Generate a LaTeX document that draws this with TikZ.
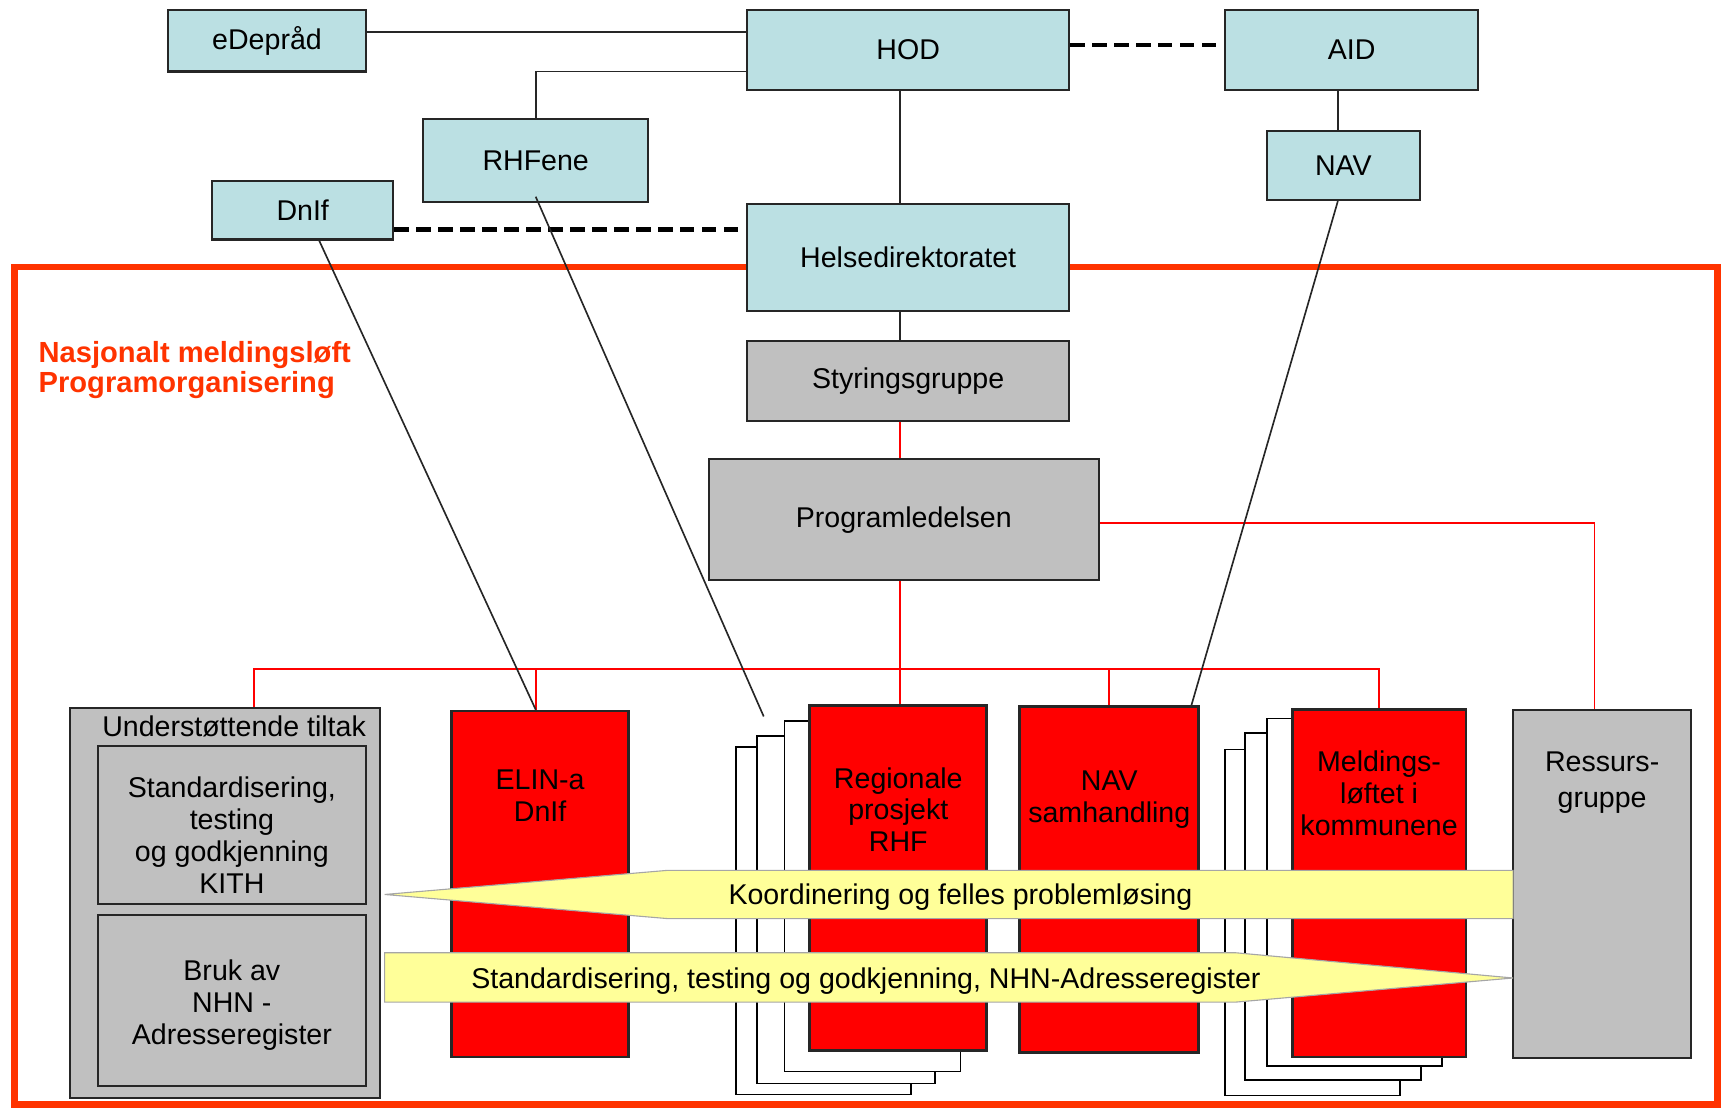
\documentclass[tikz,border=0pt]{standalone}
\usepackage{fontspec}
\setmainfont{Liberation Sans}
\usepackage{xcolor}
\usepackage{tikz}

\definecolor{boxblue}{HTML}{BBE0E3}
\definecolor{boxgray}{HTML}{C0C0C0}
\definecolor{framered}{HTML}{FF3300}
\definecolor{bandyellow}{HTML}{FFFF99}

\tikzset{
  box/.style={draw=black!85, line width=2pt, inner sep=0pt, align=center, font=\fontsize{26}{29}\selectfont},
  blubox/.style={box, fill=boxblue},
  grabox/.style={box, fill=boxgray},
  redbox/.style={box, fill=red, line width=2.5pt},
  sheet/.style={draw=black, fill=white, line width=1.5pt},
  txt/.style={inner sep=0pt, align=center, font=\fontsize{26}{29}\selectfont},
  conn/.style={draw=black!85, line width=1.5pt},
  dashconn/.style={draw=black, line width=4pt, dash pattern=on 13pt off 7pt},
  redconn/.style={draw=red, line width=1.5pt},
  band/.style={fill=bandyellow, draw=black!35, line width=1pt}
}

\begin{document}
\begin{tikzpicture}[x=1pt,y=-1pt]
    \useasboundingbox (0,0) rectangle (1568,1009);
    % the programme frame
    \draw[framered, line width=6pt] (13,243) rectangle (1563,1005);
    \node[txt, anchor=west, align=left, text=framered, font=\fontsize{26.5}{27}\selectfont\bfseries] (ttl) at (35,337) {Nasjonalt meldingsløft\\Programorganisering};

    % ministries and directorate
    \node[blubox, minimum width=180, minimum height=56] (edep) at (243,37) {eDepråd};
    \node[blubox, minimum width=293, minimum height=73] (hod) at (826.5,45.5) {HOD};
    \node[blubox, minimum width=230, minimum height=73] (aid) at (1230,45.5) {AID};
    \node[blubox, minimum width=205, minimum height=76] (rhf) at (487.5,146) {RHFene};
    \node[blubox, minimum width=139, minimum height=63] (nav) at (1222.5,150.5) {NAV};
    \node[blubox, minimum width=165, minimum height=53] (dnif) at (275.5,191.5) {DnIf};
    \node[blubox, minimum width=293, minimum height=97] (helse) at (826.5,234.5) {Helsedirektoratet};
    \node[grabox, minimum width=293, minimum height=73] (styr) at (826.5,346.5) {Styringsgruppe};
    \node[grabox, minimum width=355, minimum height=110] (prog) at (822.5,473) {Programledelsen};

    % supporting measures
    \node[grabox, minimum width=282, minimum height=355] (und) at (205,821.5) {};
    \node[txt] (undtxt) at ([xshift=8pt,yshift=-18pt]und.north) {Understøttende tiltak};
    \node[grabox, minimum width=244, minimum height=144] (kith) at (211,751) {};
    \node[txt] (kithtxt) at ([yshift=-9pt]kith.center) {Standardisering,\\testing\\og godkjenning\\KITH};
    \node[grabox, minimum width=244, minimum height=155] (bruk) at (211,910.5) {};
    \node[txt] (bruktxt) at ([yshift=-4pt]bruk.center) {Bruk av\\NHN -\\Adresseregister};

    % stacked sheets behind the projects
    \foreach \xa/\ya/\xb/\yb in {670/680/829/996, 689/670/851/986, 714/656/874/975,
                                 1115/682/1274/997, 1133/667/1293/983, 1153/654/1312/970}
        \draw[sheet] (\xa,\ya) rectangle (\xb,\yb);

    % projects
    \node[redbox, minimum width=161, minimum height=315] (elin) at (491.5,804.5) {};
    \node[redbox, minimum width=161, minimum height=314] (reg) at (817.5,799) {};
    \node[redbox, minimum width=163, minimum height=315] (navs) at (1009.5,800.5) {};
    \node[redbox, minimum width=158, minimum height=316] (meld) at (1255,804) {};
    \node[grabox, minimum width=162, minimum height=317] (ress) at (1458,804.5) {};
    \node[txt] (elintxt) at ([yshift=-78pt]elin.north) {ELIN-a\\DnIf};
    \node[txt] (regtxt) at ([yshift=-96pt]reg.north) {Regionale\\prosjekt\\RHF};
    \node[txt] (navstxt) at ([yshift=-86pt]navs.north) {NAV\\samhandling};
    \node[txt] (meldtxt) at ([yshift=-77pt]meld.north) {Meldings-\\løftet i\\kommunene};
    \node[txt] (resstxt) at ([yshift=-67pt]ress.north) {Ressurs-\\[4pt]gruppe};

    % the two yellow bands
    \draw[band] (1377,792) -- (608,792) -- (350,814) -- (608,836) -- (1377,836) -- cycle;
    \node[txt] (koord) at (874,816) {Koordinering og felles problemløsing};
    \draw[band] (350,867) -- (1124,867) -- (1377,890) -- (1124,912) -- (350,912) -- cycle;
    \node[txt] (stdtxt) at (788,893) {Standardisering, testing og godkjenning, NHN-Adresseregister};

    % connectors
    \coordinate (spine) at (819,0);
    \coordinate (bus) at (0,609);
    \coordinate (rhfend) at (695,652);
    \draw[conn] ([yshift=8pt]edep.east) -- ([yshift=8pt]edep.east -| hod.west);
    \draw[conn] (rhf.north) |- ([yshift=-19.5pt]hod.west);
    \draw[dashconn] ([yshift=4.5pt]hod.east) -- ([yshift=4.5pt]hod.east -| aid.west);
    \draw[conn] ([xshift=-5pt]nav.north) -- ([xshift=-5pt]nav.north |- aid.south);
    \draw[dashconn] ([yshift=-17.5pt]dnif.east) -- ([yshift=-17.5pt]dnif.east -| helse.west);
    \draw[conn] (hod.south -| spine) -- (helse.north -| spine);
    \draw[conn] (helse.south -| spine) -- (styr.north -| spine);
    \draw[redconn] (styr.south -| spine) -- (prog.north -| spine);
    \draw[redconn] (prog.south -| spine) -- (reg.north -| spine);
    \draw[redconn] ([xshift=26pt]und.north) |- (meld.north |- bus) -- (meld.north);
    \draw[redconn] ([xshift=-4pt]elin.north) -- ([xshift=-4pt]elin.north |- bus);
    \draw[redconn] (navs.north) -- (navs.north |- bus);
    \draw[redconn] ([yshift=-3pt]prog.east) -| ([xshift=-7pt]ress.north);
    % lines down into the programme
    \draw[conn] ([xshift=15pt]dnif.south) -- ([xshift=-4pt]elin.north);
    \draw[conn] ([yshift=6pt]rhf.south) -- (rhfend);
    \draw[conn] ([xshift=-5pt]nav.south) -- ([xshift=-8pt]navs.north east);
\end{tikzpicture}
\end{document}
